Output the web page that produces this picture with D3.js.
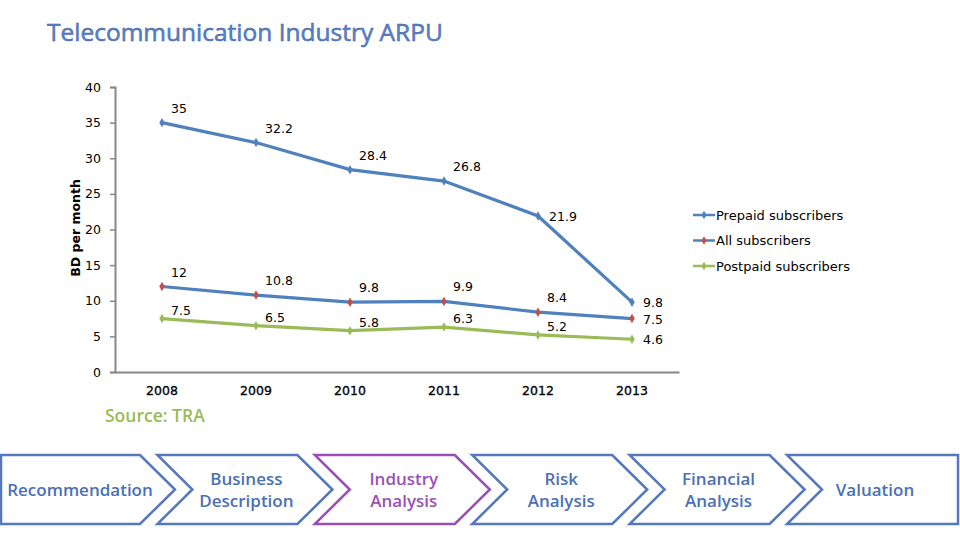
<!DOCTYPE html>
<html><head><meta charset="utf-8">
<script src="https://cdn.jsdelivr.net/npm/d3@7"></script>
<style>body{margin:0;background:#fff}svg{display:block}</style>
</head><body>
<svg id="c" width="960" height="540"></svg>
<script>
const years = ["2008","2009","2010","2011","2012","2013"];
const prepaid = [35, 32.2, 28.4, 26.8, 21.9, 9.8];
const allSubs = [12, 10.8, 9.8, 9.9, 8.4, 7.5];
const postpaid = [7.5, 6.5, 5.8, 6.3, 5.2, 4.6];
const seriesNames = ["Prepaid subscribers", "All subscribers", "Postpaid subscribers"];
const yTicks = [0, 5, 10, 15, 20, 25, 30, 35, 40];
const navItems = [["Recommendation"], ["Business", "Description"], ["Industry", "Analysis"], ["Risk", "Analysis"], ["Financial", "Analysis"], ["Valuation"]];
const activeNav = 2;

const svg = d3.select("#c");
const font = "'DejaVu Sans', Verdana, sans-serif";
const blue = "#4f81bd", red = "#c0504d", green = "#9bbb59";

// Title
svg.append("text").attr("x", 47).attr("y", 41)
  .attr("font-family", "'Open Sans', sans-serif").attr("font-size", 24.5)
  .attr("fill", "#5b82c8").attr("stroke", "#3f62a8").attr("stroke-width", 0.5)
  .text("Telecommunication Industry ARPU");

const x = d3.scaleBand().domain(years).range([115, 679]);
const y = d3.scaleLinear().domain([0, 40]).range([372, 87]);
const cx = d => x(d) + x.bandwidth() / 2;

// Y axis
const yAxis = svg.append("g").attr("transform", "translate(115,0)")
  .call(d3.axisLeft(y).tickValues(yTicks).tickSize(5).tickPadding(9));
yAxis.select(".domain").attr("stroke", "#878787").attr("stroke-width", 2);
yAxis.selectAll(".tick line").attr("stroke", "#878787").attr("stroke-width", 1.5);
yAxis.selectAll(".tick text").attr("font-family", font).attr("font-size", 12.5).attr("fill", "#000");

// X axis
const xAxis = svg.append("g").attr("transform", "translate(0,372)")
  .call(d3.axisBottom(x).tickSize(0).tickPadding(14));
xAxis.select(".domain").attr("stroke", "#878787").attr("stroke-width", 2);
xAxis.selectAll(".tick text").attr("font-family", font).attr("font-size", 12.5)
  .attr("fill", "#000").attr("stroke", "#000").attr("stroke-width", 0.3);

// Y title
svg.append("text").attr("transform", "translate(80,228) rotate(-90)")
  .attr("text-anchor", "middle").attr("font-family", font).attr("font-size", 12.5)
  .attr("font-weight", "bold").text("BD per month");

const series = [
  {name: seriesNames[0], values: prepaid, line: blue, marker: blue, dy: -10},
  {name: seriesNames[1], values: allSubs, line: blue, marker: red, dy: -10},
  {name: seriesNames[2], values: postpaid, line: green, marker: green, dy: -4}
];

const lineGen = d3.line().x((d, i) => cx(years[i])).y(d => y(d));

series.forEach((s, si) => {
  svg.append("path").datum(s.values).attr("d", lineGen)
    .attr("fill", "none").attr("stroke", s.line).attr("stroke-width", 3.2);
  svg.selectAll(null).data(s.values).enter().append("path")
    .attr("d", d3.symbol(d3.symbolDiamond, 26))
    .attr("transform", (d, i) => `translate(${cx(years[i])},${y(d)})`)
    .attr("fill", s.marker);
  svg.selectAll(null).data(s.values).enter().append("text")
    .attr("x", (d, i) => cx(years[i]) + (i === 5 || (si === 0 && i === 4) ? 11 : 9))
    .attr("y", (d, i) => y(d) + (i === 5 || (si === 0 && i === 4) ? 5 : s.dy))
    .attr("font-family", font).attr("font-size", 12.5).attr("fill", "#000")
    .text(d => d);
});

// Legend
const leg = svg.append("g");
series.forEach((s, i) => {
  const ly = 215 + i * 25.5;
  leg.append("line").attr("x1", 693).attr("x2", 715).attr("y1", ly).attr("y2", ly)
    .attr("stroke", s.line).attr("stroke-width", 2.5);
  leg.append("path").attr("d", d3.symbol(d3.symbolDiamond, 22))
    .attr("transform", `translate(704,${ly})`).attr("fill", s.marker);
  leg.append("text").attr("x", 716).attr("y", ly + 4.5)
    .attr("font-family", font).attr("font-size", 13).text(s.name);
});

// Source
svg.append("text").attr("x", 105).attr("y", 422)
  .attr("font-family", "'Open Sans', sans-serif").attr("font-size", 17.5).attr("font-weight", 600)
  .attr("fill", green).text("Source: TRA");

// Navigation chevrons
const navTop = 455, navBot = 524, navMid = 489.5;
const step = 157.4, notch = 35, shoulderW = 140, tipW = 35;
navItems.forEach((lines, i) => {
  const left = i * step;
  const col = i === activeNav ? "#9a4db8" : "#5578bd";
  const txt = i === activeNav ? "#9b4fb8" : "#4b70b4";
  let pts;
  if (i === 0) {
    pts = [[1, navTop], [left + shoulderW, navTop], [left + shoulderW + tipW, navMid], [left + shoulderW, navBot], [1, navBot]];
  } else if (i === navItems.length - 1) {
    pts = [[left, navTop], [958, navTop], [958, navBot], [left, navBot], [left + notch, navMid]];
  } else {
    pts = [[left, navTop], [left + notch + 105, navTop], [left + notch + 105 + tipW, navMid], [left + notch + 105, navBot], [left, navBot], [left + notch, navMid]];
  }
  svg.append("path").attr("d", d3.line()(pts) + "Z")
    .attr("fill", "#fff").attr("stroke", col).attr("stroke-width", 2.5).attr("stroke-linejoin", "miter");
  const centerX = i === 0 ? 80 : (i === navItems.length - 1 ? 875 : left + 89);
  const t = svg.append("text").attr("text-anchor", "middle")
    .attr("font-family", "'Open Sans', sans-serif").attr("font-size", 17).attr("font-weight", 600)
    .attr("fill", txt);
  lines.forEach((ln, k) => {
    t.append("tspan").attr("x", centerX)
      .attr("y", navMid + 6 + (k - (lines.length - 1) / 2) * 22).text(ln);
  });
});
</script>
</body></html>
